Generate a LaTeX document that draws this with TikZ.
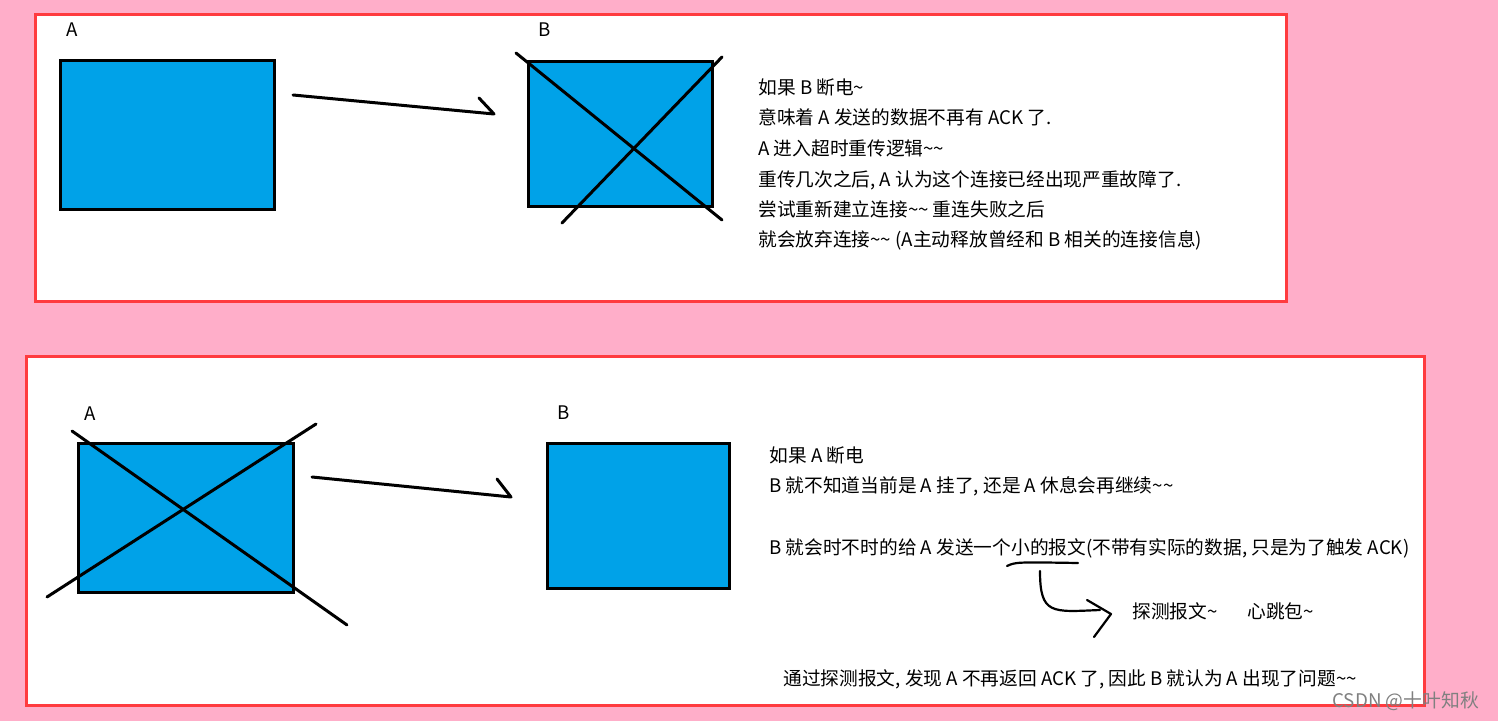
\documentclass[tikz,border=0pt]{standalone}
\usepackage{fontspec}
\newfontfamily\cjk{Noto Sans CJK SC}
\definecolor{bgpink}{HTML}{FFAEC9}
\definecolor{framered}{HTML}{FF3B3F}
\definecolor{paintblue}{HTML}{00A2E8}
\newcommand{\tld}{\textasciitilde}

\begin{document}
\begin{tikzpicture}[
        x=0.5pt, y=-0.5pt, % 一个单位 = 一个像素
        frame/.style = {draw=framered, fill=white, line width=1.5pt}, % 红框
        box/.style = {draw, fill=paintblue, line width=1.5pt}, % 主机
        pen/.style = {line width=1.5pt, line cap=round, line join=round}, % 手画的线
        thinpen/.style = {line width=1.1pt, line cap=round, line join=round},
        txt/.style = {anchor=base west, inner sep=0pt, font=\cjk\fontsize{9.35}{11}\selectfont}, % 文字
    ]
    \useasboundingbox[fill=bgpink] (0,0) rectangle (1498,721);

    % 上半部分: B 断电
    \draw[frame] (35,15) rectangle (1286,302);
    \draw[box] (60,61) rectangle (274,210);
    \node[txt] (topA) at (66,37) {A};
    \draw[box] (528,62) rectangle (712,207);
    \draw[pen] (516,53) -- (722,220);
    \draw[pen] (562,223) -- (722,57);
    \node[txt] (topB) at (538,37) {B};
    \coordinate (s1) at (293,95);
    \coordinate (e1) at (494,114);
    \coordinate (h1) at (479,98);
    \draw[pen] (s1) -- (e1) -- (h1);

    \node[txt] (t1) at (758,95) {如果 B 断电\tld};
    \node[txt] (t2) at (758,125) {意味着 A 发送的数据不再有 ACK 了.};
    \node[txt] (t3) at (758,156) {A 进入超时重传逻辑\tld\tld};
    \node[txt] (t4) at (758,187) {重传几次之后, A 认为这个连接已经出现严重故障了.};
    \node[txt] (t5) at (758,217) {尝试重新建立连接\tld\tld{} 重连失败之后};
    \node[txt] (t6) at (758,247) {就会放弃连接\tld\tld{} (A主动释放曾经和 B 相关的连接信息)};

    % 下半部分: A 断电
    \draw[frame] (26,357) rectangle (1424,705);
    \draw[box] (78,443) rectangle (293,592);
    \draw[pen] (72,431) -- (347,625);
    \draw[pen] (47,597) -- (316,424);
    \node[txt] (botA) at (84,420) {A};
    \draw[box] (547,443) rectangle (729,588);
    \node[txt] (botB) at (557,419) {B};
    \coordinate (s2) at (312,477);
    \coordinate (e2) at (511,497);
    \coordinate (h2) at (497,479);
    \draw[pen] (s2) -- (e2) -- (h2);

    \node[txt] (b1) at (769,462) {如果 A 断电};
    \node[txt] (b2) at (769,492) {B 就不知道当前是 A 挂了, 还是 A 休息会再继续\tld\tld};
    \node[txt] (b3) at (769,554) {B 就会时不时的给 A 发送一个小的报文(不带有实际的数据, 只是为了触发 ACK)};
    \node[txt] (b4) at (1132,618) {探测报文\tld};
    \node[txt] (b5) at (1247,618) {心跳包\tld};
    \node[txt] (b6) at (783,685) {通过探测报文, 发现 A 不再返回 ACK 了, 因此 B 就认为 A 出现了问题\tld\tld};

    \coordinate (u0) at (1007,566);
    \coordinate (u1) at (1078,563);
    \draw[thinpen] (u0) .. controls (1016,562) .. (u1);
    \coordinate (c0) at (1040,571);
    \coordinate (c1) at (1100,610);
    \draw[thinpen] (c0) .. controls (1040,615) and (1052,612) .. (c1);
    \draw[thinpen] (1087,600) -- (1111,614) -- (1094,637);

    \node[anchor=base west, inner sep=0pt, text=gray, font=\cjk\fontsize{9.4}{11}\selectfont] (mark) at (1332,707) {CSDN @十叶知秋};
\end{tikzpicture}
\end{document}
